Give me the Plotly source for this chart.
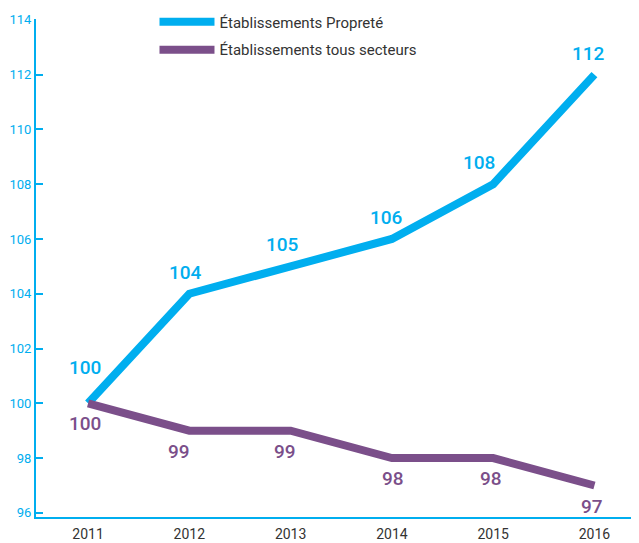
import plotly.graph_objects as go

years = [2011, 2012, 2013, 2014, 2015, 2016]
proprete = [100, 104, 105, 106, 108, 112]
tous = [100, 99, 99, 98, 98, 97]
y_ticks = [96, 98, 100, 102, 104, 106, 108, 110, 112, 114]

BLUE = "#00AEEF"
PURPLE = "#7B4F8A"
FONT = "Liberation Sans Narrow, Roboto, sans-serif"

fig = go.Figure()
fig.add_trace(go.Scatter(x=years, y=proprete, mode="lines", name="Établissements Propreté",
                         line=dict(color=BLUE, width=8), legend="legend"))
fig.add_trace(go.Scatter(x=years, y=tous, mode="lines", name="Établissements tous secteurs",
                         line=dict(color=PURPLE, width=8), legend="legend2"))

blue_shift = [22, 8, 8, 8, 8, 8]
blue_xshift = [-3, -4, -8, -5, -14, -6]
for i, (x, y) in enumerate(zip(years, proprete)):
    fig.add_annotation(x=x, y=y, text=str(y), showarrow=False, yanchor="bottom",
                       yshift=blue_shift[i], xshift=blue_xshift[i],
                       font=dict(family="Roboto, sans-serif", size=19, color=BLUE, weight=500))
purple_xshift = [-3, -10, -6, 1, -2, -2]
for i, (x, y) in enumerate(zip(years, tous)):
    fig.add_annotation(x=x, y=y, text=str(y), showarrow=False, yanchor="top",
                       yshift=-7, xshift=purple_xshift[i],
                       font=dict(family="Roboto, sans-serif", size=19, color=PURPLE, weight=500))

legend_style = dict(xanchor="left", yanchor="middle", bgcolor="rgba(0,0,0,0)",
                    font=dict(family=FONT, size=15, color="#333333"), itemwidth=55)

# the page body adds an 8px margin; compensate so the plot lands where the reference has it
fig.update_layout(
    width=631, height=535,
    margin=dict(l=28, r=0, t=11, b=26, autoexpand=False),
    paper_bgcolor="white", plot_bgcolor="white",
    showlegend=True,
    legend=dict(x=0.1965, y=0.994, **legend_style),
    legend2=dict(x=0.1965, y=0.938, **legend_style),
    xaxis=dict(range=[2010.486, 2016.44], tickvals=years, ticktext=[str(y) for y in years],
               showgrid=False, zeroline=False, showline=True, linecolor=BLUE, linewidth=2,
               ticks="", automargin=False, ticklabelstandoff=3,
               tickfont=dict(family=FONT, size=14, color="#333333")),
    yaxis=dict(range=[95.85, 114.03], tickvals=y_ticks, showgrid=False, zeroline=False,
               showline=True, linecolor=BLUE, linewidth=2, ticks="inside", ticklen=7,
               tickcolor=BLUE, tickwidth=1.5, automargin=False,
               tickfont=dict(family=FONT, size=13, color=BLUE)),
)

fig.write_html("out.html")
